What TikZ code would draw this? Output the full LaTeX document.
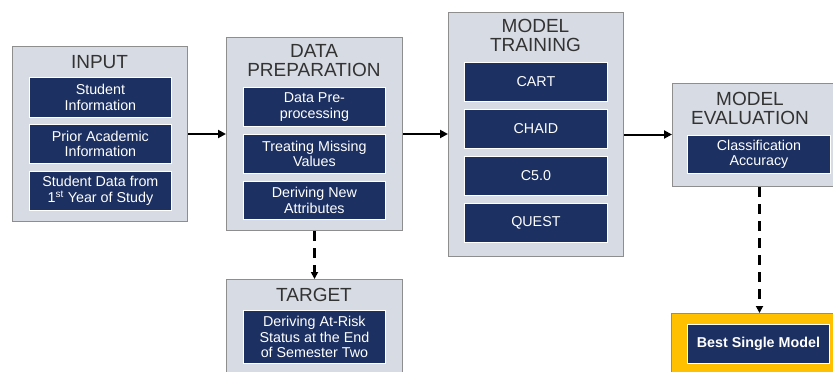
\documentclass[tikz,border=0pt]{standalone}
\usepackage{fontspec}
\setmainfont{Liberation Sans}
\usetikzlibrary{arrows.meta}

\definecolor{panelfill}{HTML}{D7DBE3}
\definecolor{panelrule}{HTML}{8E8E8E}
\definecolor{navy}{HTML}{1C3061}
\definecolor{gold}{HTML}{FFC000}
\definecolor{headtext}{HTML}{333333}

\tikzset{
  panel/.style={draw=panelrule, fill=panelfill, line width=1pt, anchor=north west, inner sep=0pt},
  goldpanel/.style={panel, fill=gold},
  item/.style={draw=white, fill=navy, line width=0.8pt, text=white, align=center,
    anchor=north west, inner sep=0pt, font=\fontsize{14.3}{15.5}\selectfont},
  heading/.style={text=headtext, align=center, inner sep=0pt, font=\fontsize{19}{19}\selectfont},
  flow/.style={line width=2pt, -{Triangle[length=8pt,width=8pt]}},
  dflow/.style={line width=2.8pt, dash pattern=on 10pt off 7pt, -{Triangle[length=7pt,width=7pt]}}
}

\begin{document}
\begin{tikzpicture}[x=1pt, y=-1pt]
\useasboundingbox (0,0) rectangle (833,372);
\clip (0,0) rectangle (833,372);

% Input panel
\node[panel, minimum width=175pt, minimum height=175pt] (input) at (12,46) {};
\node[heading] (inputT) at (99.5,62) {INPUT};
\node[item, minimum width=142pt, minimum height=40pt] (in1) at (29,77) {Student\\Information};
\node[item, minimum width=142pt, minimum height=39pt] (in2) at (29,124) {Prior Academic\\Information};
\node[item, minimum width=142pt, minimum height=39pt] (in3) at (29,171) {Student Data from\\1\textsuperscript{st} Year of Study};

% Data preparation panel
\node[panel, minimum width=176pt, minimum height=193pt] (prep) at (226,37) {};
\node[heading] (prepT) at (314,61) {DATA\\PREPARATION};
\node[item, minimum width=142pt, minimum height=39pt] (pr1) at (243,87) {Data Pre-\\processing};
\node[item, minimum width=142pt, minimum height=39pt] (pr2) at (243,134) {Treating Missing\\Values};
\node[item, minimum width=142pt, minimum height=38pt] (pr3) at (243,181) {Deriving New\\Attributes};

% Target panel
\node[panel, minimum width=176pt, minimum height=110pt] (target) at (226,279) {};
\node[heading] (targetT) at (314,295) {TARGET};
\node[item, minimum width=142pt, minimum height=53pt] (tg1) at (243,310) {Deriving At-Risk\\Status at the End\\of Semester Two};

% Model training panel
\node[panel, minimum width=175pt, minimum height=244pt] (train) at (448,12) {};
\node[heading] (trainT) at (535.5,35.5) {MODEL\\TRAINING};
\node[item, minimum width=143pt, minimum height=39pt] (tr1) at (464,62) {CART};
\node[item, minimum width=143pt, minimum height=39pt] (tr2) at (464,109) {CHAID};
\node[item, minimum width=143pt, minimum height=39pt] (tr3) at (464,156) {C5.0};
\node[item, minimum width=143pt, minimum height=39pt] (tr4) at (464,203) {QUEST};

% Model evaluation panel
\node[panel, minimum width=174pt, minimum height=103pt] (eval) at (672,83) {};
\node[heading] (evalT) at (750,108.5) {MODEL\\EVALUATION};
\node[item, minimum width=143pt, minimum height=38pt] (ev1) at (687,135) {Classification\\Accuracy};

% Selected model panel
\node[goldpanel, minimum width=176pt, minimum height=80pt] (best) at (671,313) {};
\node[item, minimum width=142pt, minimum height=39pt, font=\fontsize{14.3}{15.5}\selectfont\bfseries] (bm) at (687,324) {Best Single Model};

% Connectors
\draw[flow] (input.east) -- (input.east -| prep.west);
\draw[flow] (prep.east) -- (prep.east -| train.west);
\draw[flow] (train.east) -- (train.east -| eval.west);
\draw[dflow] (prep.south) -- (target.north);
\draw[dflow] (eval.south) -- (best.north);
\end{tikzpicture}
\end{document}
